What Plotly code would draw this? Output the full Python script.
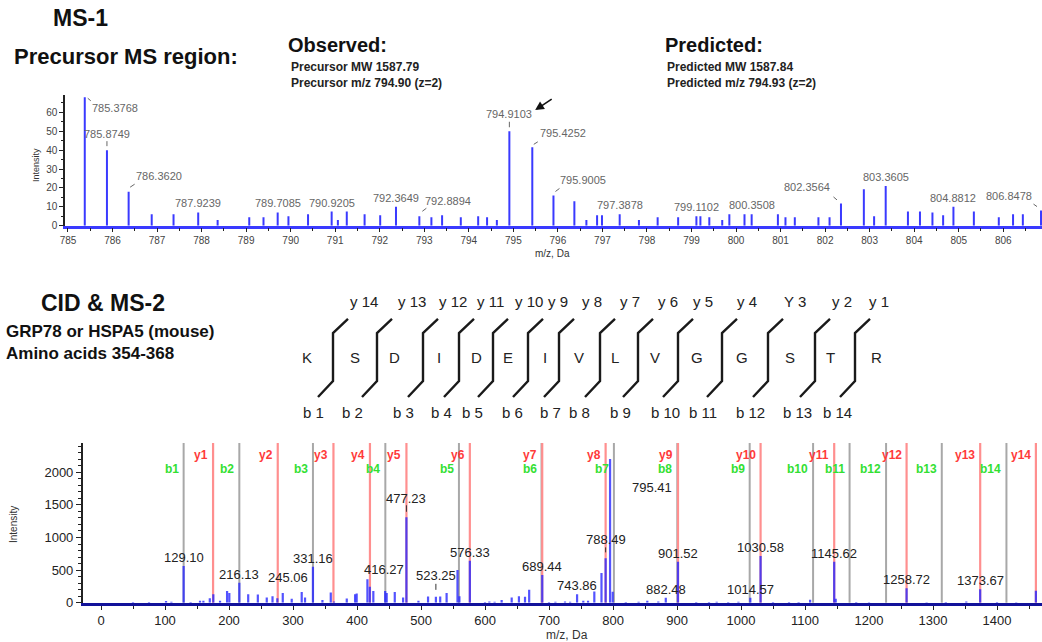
import plotly.graph_objects as go

W, H = 1042, 642
FONT = "Arial, 'Liberation Sans', sans-serif"

# ---------------- data ----------------
# MS-1 precursor region (m/z, intensity)
ms1_mz = [785.3768, 785.8749, 786.3620, 786.88, 787.37, 787.9239, 788.36, 789.07, 789.39,
          789.7085, 789.95, 790.39, 790.9205, 791.06, 791.26, 791.66, 792.01, 792.3649,
          792.8894, 793.16, 793.40, 793.82, 794.21, 794.41, 794.63, 794.9103, 795.4252,
          795.9005, 796.37, 796.64, 796.88, 796.99, 797.3878, 797.82, 798.24, 798.70,
          799.1102, 799.20, 799.40, 799.69, 799.85, 800.19, 800.3508, 800.94, 801.11,
          801.32, 801.85, 802.10, 802.3564, 802.87, 803.10, 803.3605, 803.86, 804.13,
          804.41, 804.65, 804.8812, 805.34, 805.90, 806.22, 806.44, 806.8478]
ms1_int = [68, 40, 18, 6, 6, 7, 3, 4.5, 4.5,
           7, 5, 6, 7.5, 3, 7.5, 6, 5.5, 10,
           5, 4.5, 5.5, 4.5, 5, 4.5, 3, 50, 41.5,
           16, 13, 3, 5.5, 5.5, 6, 3, 4.5, 4.5,
           5, 5, 4.5, 3, 6, 6, 6, 6, 4.5,
           4.5, 4.5, 4.5, 11.8, 19.3, 5, 21, 7.5, 7.5,
           7, 5.5, 10, 7.5, 4.5, 6, 6, 8]
ms1_labels = ["785.3768", "785.8749", "786.3620", "787.9239", "789.7085", "790.9205",
              "792.3649", "792.8894", "794.9103", "795.4252", "795.9005", "797.3878",
              "799.1102", "800.3508", "802.3564", "803.3605", "804.8812", "806.8478"]

# MS-2 (CID) spectrum (m/z, intensity)
ms2_mz = [50, 75, 101.6, 110, 129.10, 140, 154.7, 160, 170, 175.5, 186, 197, 200.5, 216.13,
          230, 245.06, 259, 268, 275.5, 284, 298, 313.6, 318.8, 331.16, 346, 359, 364, 384,
          397, 399.5, 416.27, 420, 425.5, 444, 446.4, 459, 472, 477.23, 496, 511, 523.25,
          530, 540, 557, 560, 576.33, 600, 606.8, 615, 626, 641.7, 653, 662.5, 669, 689.44,
          700, 710, 725, 733, 743.86, 753.6, 761, 770.8, 782, 788.49, 795.41, 799.5, 820,
          840, 853.6, 870.8, 882.48, 901.52, 930, 950, 962, 980, 996, 1014.57, 1030.58,
          1050, 1075, 1090, 1108, 1145.62, 1148, 1180, 1200, 1258.72, 1290, 1320, 1352,
          1373.67, 1400, 1430, 1460.76]
ms2_int = [10, 10, 26, 15, 563, 10, 28, 30, 70, 130, 30, 180, 150, 307,
           130, 125, 80, 100, 70, 150, 60, 165, 80, 552, 40, 155, 20, 65,
           130, 140, 358, 245, 180, 180, 150, 165, 80, 1310, 30, 95, 90,
           95, 150, 500, 100, 645, 10, 20, 15, 40, 80, 100, 90, 200, 425,
           10, 15, 20, 15, 128, 30, 30, 170, 455, 680, 2204, 169, 10,
           15, 30, 20, 77, 629, 10, 10, 15, 12, 15, 77, 716,
           10, 10, 12, 45, 629, 60, 10, 8, 220, 8, 10, 20,
           205, 10, 8, 184]
ms2_labels = ["129.10", "216.13", "245.06", "331.16", "416.27", "477.23", "523.25",
              "576.33", "689.44", "743.86", "788.49", "795.41", "882.48", "901.52",
              "1014.57", "1030.58", "1145.62", "1258.72", "1373.67"]

# fragment ions
b_ion_names = ["b1", "b2", "b3", "b4", "b5", "b6", "b7", "b8", "b9", "b10", "b11", "b12", "b13", "b14"]
b_ion_mz = [129.10, 216.13, 331.16, 444.25, 559.27, 688.32, 801.40, 900.47, 1013.55,
            1112.62, 1169.64, 1226.66, 1313.70, 1414.74]
y_ion_names = ["y1", "y2", "y3", "y4", "y5", "y6", "y7", "y8", "y9", "y10", "y11", "y12", "y13", "y14"]
y_ion_mz = [175.12, 276.17, 363.20, 420.22, 477.24, 576.31, 689.39, 788.46, 901.55,
            1030.59, 1145.62, 1258.70, 1373.73, 1460.76]

# peptide fragmentation map
sequence = ["K", "S", "D", "I", "D", "E", "I", "V", "L", "V", "G", "G", "S", "T", "R"]
y_frag_labels = ["y 14", "y 13", "y 12", "y 11", "y 10", "y 9", "y 8", "y 7", "y 6",
                 "y 5", "y 4", "Y 3", "y 2", "y 1"]
b_frag_labels = ["b 1", "b 2", "b 3", "b 4", "b 5", "b 6", "b 7", "b 8", "b 9",
                 "b 10", "b 11", "b 12", "b 13", "b 14"]

# ---------------- layout positions (pixels) ----------------
residue_px = [307, 355, 394, 439, 476, 508, 545, 579, 615, 655, 697, 742, 790, 830, 876]
sep_px = [333, 377, 423, 459, 493, 528, 559, 600, 638, 678, 722, 768, 815, 855]
ylab_px = [364, 412, 453, 490, 529, 558, 592, 630, 668, 703, 747, 795, 842, 879]
blab_px = [313, 352, 403, 441, 472, 512, 550, 579, 620, 665, 703, 750, 797, 837]

# label offsets (text centre relative to peak top, screen px) and optional leader segment
ms1_offsets = {
    "785.3768": (30, 11, (3, 1, 6, 3.5)),
    "785.8749": (0, -16, (0, -4, 0, -9)),
    "786.3620": (30, -16, (1.5, -4.5, 6, -7.5)),
    "792.8894": (29, -15, (3, -5, 7, -8)),
    "794.9103": (0, -17, (0, -4, 0, -9.5)),
    "795.4252": (31, -14, (1.5, -3, 5.5, -5.5)),
    "795.9005": (30, -15, (2, -4, 6, -7)),
    "802.3564": (-34, -16, (-7.5, -6.5, -4, -3.5)),
    "806.8478": (-32, -15, (-7.5, -6.5, -4, -4)),
}
ms2_offsets = {
    "245.06": (30, -17, None),
    "416.27": (17, -10, None),
    "477.23": (0, -19, (0, -5.5, 0, -12)),
    "523.25": (0, -21, (0, -7, 0, -13)),
    "788.49": (0, -19, (0, -6, 0, -11)),
    "795.41": (42, 29, None),
}


def px(x):
    return x / W


def py(y):
    return 1 - y / H


fig = go.Figure()

# ---------------- MS-1 sticks ----------------
sx, sy = [], []
for m, v in zip(ms1_mz, ms1_int):
    sx += [m, m, None]
    sy += [0, v, None]
fig.add_trace(go.Scatter(x=sx, y=sy, mode="lines", line=dict(color="#3a3aff", width=2),
                         xaxis="x", yaxis="y", hoverinfo="skip", showlegend=False))

# ---------------- MS-2 ion lines ----------------
shapes = []
for m in b_ion_mz:
    shapes.append(dict(type="line", xref="x2", yref="y2 domain", x0=m, x1=m, y0=0, y1=1,
                       line=dict(color="#a8a8a8", width=2), layer="below"))
for m in y_ion_mz:
    shapes.append(dict(type="line", xref="x2", yref="y2 domain", x0=m, x1=m, y0=0, y1=1,
                       line=dict(color="#ff8f8f", width=2.2), layer="below"))

# ---------------- MS-2 sticks ----------------
tx, ty = [], []
for m, v in zip(ms2_mz, ms2_int):
    tx += [m, m, None]
    ty += [0, v, None]
fig.add_trace(go.Scatter(x=tx, y=ty, mode="lines", line=dict(color="rgba(40,40,255,0.8)", width=2.2),
                         xaxis="x2", yaxis="y2", hoverinfo="skip", showlegend=False))

annotations = []


def txt(x, y, s, size, color="#111", bold=False, xanchor="center", angle=0):
    if bold:
        s = "<b>" + s + "</b>"
    annotations.append(dict(x=px(x), y=py(y), xref="paper", yref="paper", text=s,
                            showarrow=False, xanchor=xanchor, yanchor="middle",
                            textangle=angle, font=dict(family=FONT, size=size, color=color)))


# ---------------- header texts ----------------
txt(80, 18, "MS-1", 23, bold=True)
txt(12, 56, "Precursor MS region:", 22, bold=True, xanchor="left")
txt(286, 45, "Observed:", 20, bold=True, xanchor="left")
txt(289, 67, "Precursor MW 1587.79", 12, color="#222", bold=True, xanchor="left")
txt(289, 83, "Precursor m/z 794.90 (z=2)", 12, color="#222", bold=True, xanchor="left")
txt(663, 45, "Predicted:", 20, bold=True, xanchor="left")
txt(665, 67, "Predicted MW 1587.84", 12, color="#222", bold=True, xanchor="left")
txt(665, 83, "Predicted m/z 794.93 (z=2)", 12, color="#222", bold=True, xanchor="left")

txt(103, 303, "CID &amp; MS-2", 23, bold=True)
txt(4, 331, "GRP78 or HSPA5 (mouse)", 17, bold=True, xanchor="left")
txt(4, 353, "Amino acids 354-368", 17, bold=True, xanchor="left")

# axis titles
txt(36, 165, "Intensity", 9, color="#333", angle=-90)
txt(552, 253, "m/z, Da", 10, color="#333")
txt(13, 525, "Intensity", 10, color="#333", angle=-90)
txt(567, 635, "m/z, Da", 12, color="#333")

# ---------------- peptide map ----------------
for s, xp in zip(sequence, residue_px):
    txt(xp, 357, s, 15, color="#222")
for s, xp in zip(y_frag_labels, ylab_px):
    txt(xp, 302, s, 15, color="#222")
for s, xp in zip(b_frag_labels, blab_px):
    txt(xp, 412, s, 15, color="#222")
for xp in sep_px:
    path = "M {:.5f} {:.5f} L {:.5f} {:.5f} L {:.5f} {:.5f} L {:.5f} {:.5f}".format(
        px(xp - 15), py(397), px(xp), py(381), px(xp), py(333), px(xp + 15), py(319))
    shapes.append(dict(type="path", xref="paper", yref="paper", path=path,
                       line=dict(color="#1a1a1a", width=2.4)))

# ---------------- MS-1 peak labels ----------------
for lab in ms1_labels:
    m = float(lab)
    i = min(range(len(ms1_mz)), key=lambda k: abs(ms1_mz[k] - m))
    dx, dy, lead = ms1_offsets.get(lab, (0, -9, None))
    annotations.append(dict(x=ms1_mz[i], y=ms1_int[i], xref="x", yref="y", text=lab,
                            showarrow=False, xanchor="center", yanchor="middle",
                            xshift=dx, yshift=-dy,
                            font=dict(family=FONT, size=11, color="#666")))
    if lead:
        shapes.append(dict(type="line", xref="x", yref="y", xsizemode="pixel", ysizemode="pixel",
                           xanchor=ms1_mz[i], yanchor=ms1_int[i],
                           x0=lead[0], y0=-lead[1], x1=lead[2], y1=-lead[3],
                           line=dict(color="#666", width=1)))

# arrow pointing at the precursor
annotations.append(dict(x=795.49, y=61.2, xref="x", yref="y", text="", showarrow=True,
                        arrowhead=2, arrowsize=1.1, arrowwidth=1.6, arrowcolor="#111",
                        ax=18, ay=-12))

# ---------------- MS-2 peak labels ----------------
for lab in ms2_labels:
    m = float(lab)
    i = min(range(len(ms2_mz)), key=lambda k: abs(ms2_mz[k] - m))
    dx, dy, lead = ms2_offsets.get(lab, (0, -8.5, None))
    annotations.append(dict(x=ms2_mz[i], y=ms2_int[i], xref="x2", yref="y2", text=lab,
                            showarrow=False, xanchor="center", yanchor="middle",
                            xshift=dx, yshift=-dy,
                            font=dict(family=FONT, size=13, color="#222")))
    if lead:
        shapes.append(dict(type="line", xref="x2", yref="y2", xsizemode="pixel", ysizemode="pixel",
                           xanchor=ms2_mz[i], yanchor=ms2_int[i],
                           x0=lead[0], y0=-lead[1], x1=lead[2], y1=-lead[3],
                           line=dict(color="#333", width=1)))

# ion labels
for name, m in zip(y_ion_names, y_ion_mz):
    annotations.append(dict(x=m, y=py(455), xref="x2", yref="paper", text="<b>" + name + "</b>",
                            showarrow=False, xanchor="right", yanchor="middle", xshift=-3,
                            font=dict(family=FONT, size=12, color="#ff3a3a")))
for name, m in zip(b_ion_names, b_ion_mz):
    annotations.append(dict(x=m, y=py(469), xref="x2", yref="paper", text="<b>" + name + "</b>",
                            showarrow=False, xanchor="right", yanchor="middle", xshift=-3,
                            font=dict(family=FONT, size=12, color="#33e033")))

axis_common = dict(showgrid=False, zeroline=False, automargin=False, ticks="outside",
                   tickcolor="#222", showline=True)

fig.update_layout(
    template="none",
    width=W, height=H, margin=dict(l=0, r=0, t=0, b=0, pad=0, autoexpand=False),
    paper_bgcolor="white", plot_bgcolor="white", showlegend=False,
    font=dict(family=FONT),
    xaxis=dict(axis_common, domain=[px(65), 1], range=[784.933, 806.87], anchor="y",
               tick0=785, dtick=1, ticklen=4,
               linecolor="#3a3aff", linewidth=2.5,
               tickfont=dict(family=FONT, size=10, color="#444"),
               minor=dict(dtick=0.5, ticks="outside", ticklen=3, tickcolor="#222")),
    yaxis=dict(axis_common, domain=[py(225.7), py(95)], range=[0, 69.2], anchor="x",
               tick0=0, dtick=10, ticklen=4,
               linecolor="#222", linewidth=1.5,
               tickfont=dict(family=FONT, size=10, color="#444"),
               minor=dict(dtick=5, ticks="outside", ticklen=2, tickcolor="#222")),
    xaxis2=dict(axis_common, domain=[px(82.7), 1], range=[-28.6, 1470.3], anchor="y2",
                tick0=0, dtick=100, ticklen=4,
                linecolor="#12129a", linewidth=3,
                tickfont=dict(family=FONT, size=13, color="#222"),
                minor=dict(dtick=50, ticks="outside", ticklen=3, tickcolor="#222")),
    yaxis2=dict(axis_common, domain=[py(602.7), py(443)], range=[0, 2449], anchor="x2",
                tick0=0, dtick=500, ticklen=5,
                linecolor="#222", linewidth=1.5,
                tickfont=dict(family=FONT, size=13, color="#222"),
                minor=dict(dtick=100, ticks="outside", ticklen=3, tickcolor="#222")),
    shapes=shapes,
    annotations=annotations,
)

fig.write_html("out.html", config={"displayModeBar": False},
               post_script="document.body.style.margin='0';document.body.style.overflow='hidden';")
